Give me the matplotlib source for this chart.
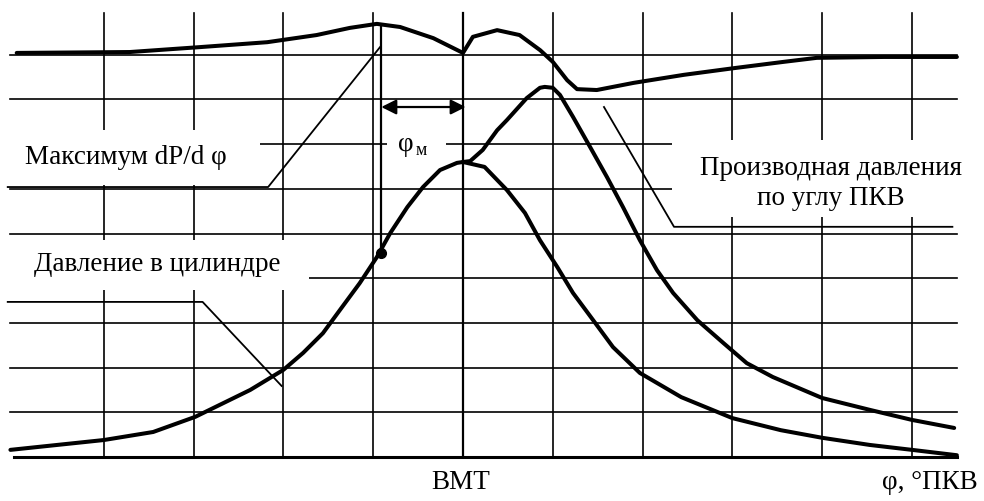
import numpy as np
import matplotlib.pyplot as plt
from matplotlib.patches import Rectangle

# crank angle (deg from TDC) and pressure-like values
phi_comp = [-50.4, -40.0, -34.5, -29.8, -23.7, -20.0, -17.8, -15.6, -13.7, -11.5, -9.6,
            -8.1, -6.2, -4.45, -2.56, -0.67, 0.0, 2.4, 4.9, 6.9, 8.57, 10.5, 12.25, 14.5,
            16.7, 19.7, 24.3, 30.0, 35.4, 40.0, 45.3, 50.0, 55.0]
p_comp = [0.16, 0.38, 0.56, 0.90, 1.50, 1.95, 2.33, 2.77, 3.29, 3.89, 4.47,
          5.01, 5.59, 6.04, 6.42, 6.58, 6.60, 6.49, 5.97, 5.46, 4.85, 4.25, 3.67, 3.06,
          2.46, 1.88, 1.34, 0.87, 0.60, 0.43, 0.27, 0.16, 0.04]

phi_fire = [0.0, 0.8, 2.2, 3.8, 4.9, 7.1, 8.57, 9.1, 10.0, 10.8, 12.25, 14.14, 16.04,
            17.82, 19.7, 21.6, 23.4, 26.1, 29.0, 31.6, 34.5, 40.0, 45.4, 50.0, 54.7]
p_fire = [6.60, 6.62, 6.87, 7.31, 7.54, 8.03, 8.26, 8.28, 8.26, 8.10, 7.61, 6.94, 6.26,
          5.59, 4.85, 4.18, 3.67, 3.06, 2.55, 2.10, 1.79, 1.32, 1.05, 0.83, 0.65]

phi_deriv = [-49.7, -37.1, -29.3, -21.8, -16.3, -12.6, -9.6, -7.0, -3.3, 0.0, 1.1, 3.8,
             6.3, 8.6, 10.0, 11.6, 12.7, 14.9, 19.0, 24.6, 30.2, 35.7, 39.4, 46.9, 55.0]
dp_deriv = [9.04, 9.06, 9.17, 9.28, 9.44, 9.60, 9.69, 9.62, 9.37, 9.04, 9.40, 9.55,
            9.44, 9.10, 8.84, 8.43, 8.23, 8.21, 8.37, 8.55, 8.70, 8.84, 8.93, 8.95, 8.95]

phi_max = -9.1      # angle of max dP/dphi
p_at_max = 4.56
dp_at_max = 9.66

grid_x = [-40, -30, -20, -10, 0, 10, 20, 30, 40, 50]
grid_y = [1, 2, 3, 4, 5, 6, 7, 8, 9]

plt.rcParams['font.family'] = ['Liberation Serif', 'DejaVu Serif']

fig = plt.figure(figsize=(9.84, 5.01), dpi=100)
ax = fig.add_axes([0, 0, 1, 1])
ax.set_xlim(-51.56, 58.02)
ax.set_ylim(-0.984, 10.224)
ax.axis('off')

# grid
for gx in grid_x:
    ax.plot([gx, gx], [0, 9.93], color='k', lw=1.6 if gx == 0 else 1.2, zorder=1)
for gy in grid_y:
    ax.plot([-50.4, 55.0], [gy, gy], color='k', lw=1.2, zorder=1)
ax.plot([-50.0, 55.0], [0, 0], color='k', lw=2.2, zorder=1)

# white areas behind the labels (x0, y0, w, h in data units)
for x0, y0, w, h in [(-51.6, 6.08, 29.0, 1.24), (23.3, 5.37, 35.0, 1.72),
                     (-51.6, 3.74, 34.4, 1.11), (-8.46, 6.69, 6.56, 0.51)]:
    ax.add_patch(Rectangle((x0, y0), w, h, facecolor='white', edgecolor='none', zorder=2))

# curves
lw_c = 2.9
for xs, ys in [(phi_comp, p_comp), (phi_fire, p_fire), (phi_deriv, dp_deriv)]:
    ax.plot(xs, ys, color='k', lw=lw_c, zorder=4, solid_joinstyle='round',
            solid_capstyle='round')

# max dP/dphi marker
ax.plot([phi_max, phi_max], [p_at_max, dp_at_max], color='k', lw=1.6, zorder=4)
ax.plot(phi_max, p_at_max, 'o', color='k', ms=7, zorder=5)
ax.annotate('', xy=(0.3, 7.83), xytext=(phi_max, 7.83),
            arrowprops=dict(arrowstyle='<|-|>,head_length=0.6,head_width=0.3',
                            color='k', lw=1.6, mutation_scale=15,
                            shrinkA=0, shrinkB=0), zorder=5)

# leader lines
ax.plot([-50.7, -21.7, -9.24], [6.04, 6.04, 9.17], color='k', lw=1.3, zorder=3)
ax.plot([-50.7, -29.0, -20.2], [3.47, 3.47, 1.59], color='k', lw=1.3, zorder=3)
ax.plot([54.5, 23.5, 15.7], [5.15, 5.15, 7.83], color='k', lw=1.3, zorder=3)

# labels
fs = 19.5
ax.text(-48.8, 6.71, 'Максимум dP/d φ', fontsize=fs, ha='left', va='center', zorder=3)
ax.text(41.0, 6.12, 'Производная давления\nпо углу ПКВ', fontsize=fs, ha='center',
        va='center', multialignment='center', linespacing=1.25, zorder=3)
ax.text(-34.1, 4.30, 'Давление в цилиндре', fontsize=fs, ha='center', va='center', zorder=3)
ax.text(-6.4, 7.0, 'φ', fontsize=fs, ha='center', va='center', zorder=3)
ax.text(-4.6, 6.86, 'м', fontsize=13, ha='center', va='center', zorder=3)
ax.text(-0.2, -0.58, 'ВМТ', fontsize=fs, ha='center', va='center')
ax.text(57.3, -0.58, 'φ, °ПКВ', fontsize=fs, ha='right', va='center')

fig.savefig('out.png', dpi=100, facecolor='white')
